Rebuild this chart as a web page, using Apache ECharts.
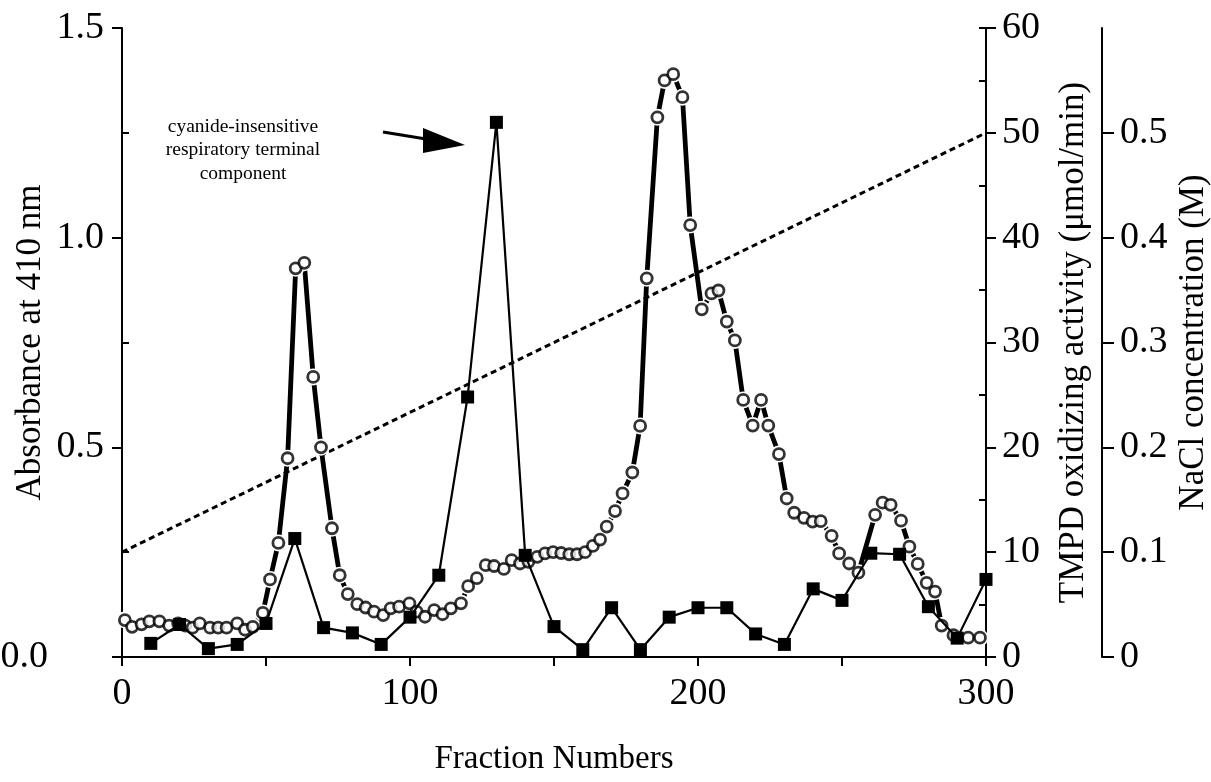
<!DOCTYPE html>
<html>
<head>
<meta charset="utf-8">
<script src="https://cdn.jsdelivr.net/npm/echarts@6/dist/echarts.min.js"></script>
<style>
  html, body { margin: 0; padding: 0; background: #fff; }
  #chart { width: 1211px; height: 782px; }
</style>
</head>
<body>
<div id="chart"></div>
<script>
// Elution profile: absorbance at 410 nm (open circles)
const fractionNo = [
  1, 3.5, 6.8, 9.5, 13, 16.4, 19.5, 22, 24.5, 27, 30.6, 33.4, 36.3, 40, 42.7, 45.4, 48.9,
  51.4, 54.3, 57.5, 60.3, 63.3, 66.4, 69.1, 72.9, 75.6, 78.4, 81.7, 84.6, 87.5, 90.7, 93.3,
  96.2, 99.8, 102.3, 105.2, 108.4, 111.3, 114.2, 117.7, 120.2, 123.2, 126.3, 129.2, 132.6,
  135.3, 138.2, 141.1, 144.2, 146.9, 149.7, 152.5, 155.3, 158, 160.8, 163.5, 166, 168.3,
  171.2, 173.8, 177.2, 179.9, 182.2, 185.9, 188.4, 191.4, 194.6, 197.3, 201.3, 204.7,
  207.1, 210, 212.8, 215.7, 219, 221.9, 224.4, 228.1, 230.8, 233.4, 236.8, 239.8, 242.6,
  246.4, 249, 252.5, 255.7, 261.5, 264.1, 266.9, 270.5, 273.4, 276.3, 279.4, 282.3, 284.6,
  288.7, 293.8, 297.9
];
const absorbance = [
  0.088, 0.072, 0.078, 0.085, 0.085, 0.075, 0.08, 0.075, 0.07, 0.08, 0.07, 0.07, 0.07, 0.08, 0.065, 0.072, 0.105,
  0.185, 0.272, 0.474, 0.927, 0.94, 0.668, 0.50, 0.307, 0.195, 0.15, 0.126, 0.118, 0.108, 0.10, 0.116,
  0.12, 0.128, 0.108, 0.096, 0.112, 0.102, 0.116, 0.128, 0.169, 0.188, 0.219, 0.217, 0.21,
  0.231, 0.223, 0.227, 0.239, 0.247, 0.25, 0.248, 0.245, 0.245, 0.25, 0.265, 0.28, 0.311,
  0.348, 0.39, 0.44, 0.551, 0.903, 1.287, 1.375, 1.39, 1.335, 1.03, 0.829, 0.867,
  0.874, 0.80, 0.755, 0.613, 0.552, 0.613, 0.552, 0.484, 0.378, 0.344, 0.332, 0.323, 0.324,
  0.289, 0.247, 0.223, 0.201, 0.339, 0.368, 0.363, 0.325, 0.263, 0.222, 0.177, 0.156, 0.075,
  0.052, 0.046, 0.046
];

// TMPD oxidizing activity (filled squares), every 10th fraction
const activityFractions = [10, 20, 30, 40, 50, 60, 70, 80, 90, 100, 110, 120, 130, 140, 150,
  160, 170, 180, 190, 200, 210, 220, 230, 240, 250, 260, 270, 280, 290, 300];
const activity = [1.3, 3.1, 0.8, 1.2, 3.2, 11.3, 2.8, 2.3, 1.2, 3.8, 7.8, 24.8, 51.0, 9.7, 2.9,
  0.7, 4.7, 0.7, 3.8, 4.7, 4.7, 2.2, 1.2, 6.5, 5.4, 9.9, 9.8, 4.8, 1.8, 7.4];

// Linear NaCl gradient (dashed line)
const saltFractions = [0, 300];
const saltConc = [0.1, 0.5];

// Tick labels
const xLabels = [0, 100, 200, 300];
const absTicks = [0, 0.5, 1.0, 1.5];
const absMinorTicks = [0.25, 0.75, 1.25];
const activityTicks = [0, 10, 20, 30, 40, 50, 60];
const activityMinorTicks = [5, 15, 25, 35, 45, 55, 60];
const saltTicks = [0, 0.1, 0.2, 0.3, 0.4, 0.5];

const FONT = 'Liberation Serif';
const BLACK = '#000';
const TICK_FONT = 38;
const TITLE_FONT = 35;

const zip = (xs, ys) => xs.map((x, i) => [x, ys[i]]);

const chart = echarts.init(document.getElementById('chart'), null, { renderer: 'canvas' });

const hiddenAxis = {
  axisLine: { show: false },
  axisLabel: { show: false },
  splitLine: { show: false }
};

chart.setOption({
  animation: false,
  backgroundColor: '#fff',
  grid: { left: 122, right: 225, top: 28, bottom: 125, containLabel: false, outerBoundsMode: 'none' },
  xAxis: {
    type: 'value', min: 0, max: 300, interval: 50,
    name: 'Fraction Numbers', nameLocation: 'middle', nameGap: 86, nameMoveOverlap: false,
    nameTextStyle: { fontFamily: FONT, fontSize: 33, color: BLACK },
    axisLine: { show: true, onZero: false, lineStyle: { color: BLACK, width: 2 } },
    axisTick: { show: true, inside: false, length: 9, lineStyle: { color: BLACK, width: 2 } },
    axisLabel: {
      customValues: xLabels, fontFamily: FONT, fontSize: TICK_FONT, color: BLACK, margin: 18
    },
    splitLine: { show: false }
  },
  yAxis: [
    {
      // Absorbance (left)
      type: 'value', position: 'left', min: 0, max: 1.5, interval: 0.5,
      name: 'Absorbance at 410 nm', nameLocation: 'middle', nameGap: 74, nameRotate: 90,
      nameMoveOverlap: false,
      nameTextStyle: { fontFamily: FONT, fontSize: TITLE_FONT, color: BLACK },
      axisLine: { show: true, onZero: false, lineStyle: { color: BLACK, width: 2 } },
      axisTick: { show: true, inside: false, length: 10, customValues: absTicks,
        lineStyle: { color: BLACK, width: 2 } },
      axisLabel: {
        customValues: absTicks, fontFamily: FONT, fontSize: TICK_FONT, color: BLACK, margin: 18,
        formatter: v => v === 0 ? '{shift|0.0}' : v.toFixed(1),
        rich: { shift: { fontFamily: FONT, fontSize: TICK_FONT, color: BLACK, padding: [0, 56, 0, 0] } }
      },
      splitLine: { show: false }
    },
    Object.assign({
      // Absorbance minor ticks, pointing inward
      type: 'value', position: 'left', min: 0, max: 1.5,
      axisTick: { show: true, inside: true, length: 7, customValues: absMinorTicks,
        lineStyle: { color: BLACK, width: 2 } }
    }, hiddenAxis),
    {
      // TMPD oxidizing activity (right)
      type: 'value', position: 'right', offset: 0, min: 0, max: 60, interval: 10,
      name: 'TMPD oxidizing activity (μmol/min)', nameLocation: 'middle', nameGap: 70, nameRotate: 90,
      nameMoveOverlap: false,
      nameTextStyle: { fontFamily: FONT, fontSize: TITLE_FONT, color: BLACK },
      axisLine: { show: true, onZero: false, lineStyle: { color: BLACK, width: 2 } },
      axisTick: { show: true, inside: false, length: 10, customValues: activityTicks,
        lineStyle: { color: BLACK, width: 2 } },
      axisLabel: { customValues: activityTicks, fontFamily: FONT, fontSize: TICK_FONT, color: BLACK, margin: 16 },
      splitLine: { show: false }
    },
    Object.assign({
      // TMPD minor ticks, pointing inward
      type: 'value', position: 'right', offset: 0, min: 0, max: 60,
      axisTick: { show: true, inside: true, length: 7, customValues: activityMinorTicks,
        lineStyle: { color: BLACK, width: 2 } }
    }, hiddenAxis),
    {
      // NaCl concentration (outer right)
      type: 'value', position: 'right', offset: 116, min: 0, max: 0.6, interval: 0.1,
      name: 'NaCl concentration (M)', nameLocation: 'middle', nameGap: 74, nameRotate: 90,
      nameMoveOverlap: false,
      nameTextStyle: { fontFamily: FONT, fontSize: TITLE_FONT, color: BLACK },
      axisLine: { show: true, onZero: false, lineStyle: { color: BLACK, width: 2 } },
      axisTick: { show: true, inside: false, length: 12, customValues: saltTicks,
        lineStyle: { color: BLACK, width: 2 } },
      axisLabel: {
        customValues: saltTicks, fontFamily: FONT, fontSize: TICK_FONT, color: BLACK, margin: 18,
        formatter: v => v === 0 ? '0' : v.toFixed(1)
      },
      splitLine: { show: false }
    }
  ],
  series: [
    {
      name: 'NaCl gradient', type: 'line', yAxisIndex: 4, z: 1,
      data: zip(saltFractions, saltConc),
      showSymbol: false, symbol: 'none',
      lineStyle: { color: BLACK, width: 3, type: [6, 4] }
    },
    {
      // thick absorbance trace; white halos leave gaps around each circle
      name: 'Absorbance', type: 'line', yAxisIndex: 0, z: 2,
      data: zip(fractionNo, absorbance),
      symbol: 'circle', symbolSize: 17, showAllSymbol: true,
      itemStyle: { color: '#fff', borderWidth: 0 },
      lineStyle: { color: BLACK, width: 4.8 }
    },
    {
      name: 'Absorbance points', type: 'scatter', yAxisIndex: 0, z: 3,
      data: zip(fractionNo, absorbance),
      symbol: 'circle', symbolSize: 11,
      itemStyle: { color: '#fff', borderColor: BLACK, borderWidth: 2.8 }
    },
    {
      name: 'TMPD activity', type: 'line', yAxisIndex: 2, z: 4,
      data: zip(activityFractions, activity),
      symbol: 'rect', symbolSize: 13, showAllSymbol: true,
      itemStyle: { color: BLACK },
      lineStyle: { color: BLACK, width: 2.2 }
    }
  ],
  graphic: [
    {
      type: 'text', z: 10,
      style: {
        x: 243, y: 115,
        text: 'cyanide-insensitive\nrespiratory terminal\ncomponent',
        font: '19.5px "Liberation Serif"', fill: BLACK, align: 'center', verticalAlign: 'top', lineHeight: 23.5
      }
    },
    {
      type: 'line', z: 10,
      shape: { x1: 383, y1: 132, x2: 426, y2: 139 },
      style: { stroke: BLACK, lineWidth: 3 }
    },
    {
      type: 'polygon', z: 10,
      shape: { points: [[423, 128], [423, 153], [465, 145]] },
      style: { fill: BLACK }
    }
  ]
});
</script>
</body>
</html>
